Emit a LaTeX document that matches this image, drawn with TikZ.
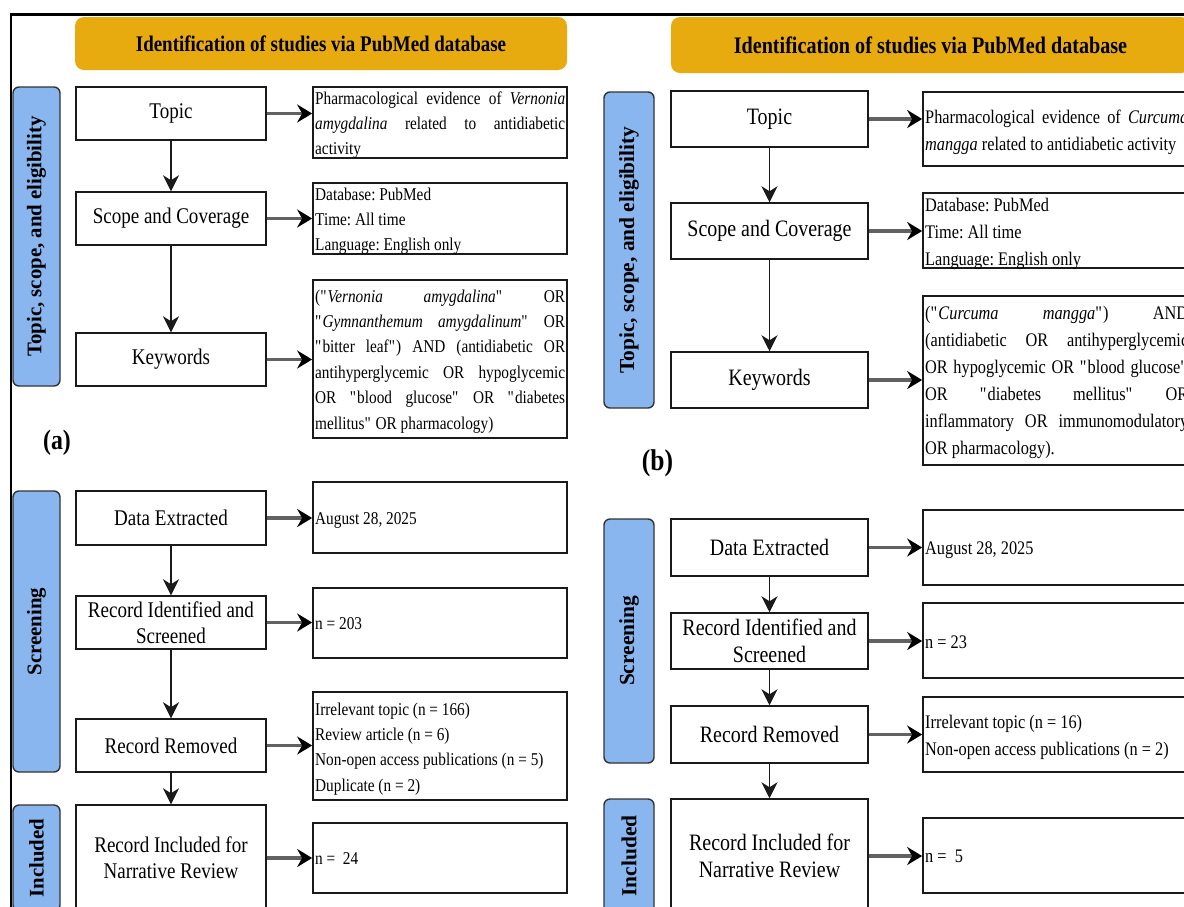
\documentclass[tikz,border=0pt]{standalone}
\usepackage{fontspec}
\setmainfont[FakeStretch=0.85]{Liberation Serif}
\newfontfamily\sidefont{Liberation Serif}
\usetikzlibrary{arrows.meta}
\definecolor{headgold}{HTML}{E7AB0F}
\definecolor{sideblue}{HTML}{8AB6F0}
\definecolor{lineblk}{HTML}{1A1A1A}
\newcommand\qd{\textquotedbl}
\frenchspacing
\begin{document}
\begin{tikzpicture}[x=1pt,y=-1pt,
  box/.style={draw=lineblk, line width=1.5pt, fill=white, inner sep=0pt, align=center},
  tbox/.style={draw=lineblk, line width=1.7pt, fill=white, inner sep=0pt},
  side/.style={draw=black!80, line width=1.4pt, fill=sideblue, rounded corners=6pt, inner sep=0pt},
  head/.style={fill=headgold, rounded corners=9pt, inner sep=0pt},
  lblA/.style={font=\fontsize{22.4}{26}\selectfont},
  lblB/.style={font=\fontsize{23.5}{27.3}\selectfont},
  sideA/.style={font=\sidefont\bfseries\fontsize{20.8}{24}\selectfont},
  sideB/.style={font=\sidefont\bfseries\fontsize{21.4}{24}\selectfont},
  txtA/.style={anchor=base west, inner sep=0pt, text width=250pt, align=justify, font=\fontsize{18}{25.4}\selectfont},
  txtB/.style={anchor=base west, inner sep=0pt, text width=263pt, align=justify, font=\fontsize{19.2}{27}\selectfont},
  varrow/.style={draw=lineblk, line width=1.4pt, -{Stealth[length=16pt,width=16pt,inset=5pt]}},
  harrow/.style={draw=black!62, line width=3.2pt, -{Stealth[length=15pt,width=18pt,inset=5pt,color=black]}},
  plab/.style={inner sep=0pt, font=\bfseries\fontsize{28}{30}\selectfont}
]
\useasboundingbox (0,0) rectangle (1184,906);
\clip (0,0) rectangle (1184,906);
\fill[white] (0,0) rectangle (1184,906);
% outer border
\draw[line width=2.6pt, black] (11,910) -- (11,14.7) -- (1190,14.7);

% ================= panel (a) =================
\node[head, minimum width=492pt, minimum height=53pt, font=\bfseries\fontsize{22.3}{26}\selectfont] (hA) at (321,43.5) {Identification of studies via PubMed database};

\node[side, sideA, rotate=90, minimum width=299pt, minimum height=47pt] (sA1) at (36.5,236.5) {Topic, scope, and eligibility};
\node[side, sideA, rotate=90, minimum width=281pt, minimum height=47pt] (sA2) at (36.5,631.5) {Screening};
\node[side, sideA, rotate=90, minimum width=106pt, minimum height=47pt] (sA3) at (36.5,858) {Included};

\node[box, lblA, minimum width=190pt, minimum height=53pt] (topA) at (171,113.5) {Topic};
\node[box, lblA, minimum width=190pt, minimum height=53pt] (scoA) at (171,218.5) {Scope and Coverage};
\node[box, lblA, minimum width=190pt, minimum height=53pt] (keyA) at (171,359.5) {Keywords};
\node[box, lblA, minimum width=190pt, minimum height=54pt] (datA) at (171,518) {Data Extracted};
\node[box, lblA, minimum width=190pt, minimum height=53pt] (ideA) at (171,622.5) {Record Identified and\\Screened};
\node[box, lblA, minimum width=190pt, minimum height=53pt] (remA) at (171,745.5) {Record Removed};
\node[box, lblA, minimum width=190pt, minimum height=106pt] (incA) at (171,858) {Record Included for\\Narrative Review};

\node[tbox, minimum width=254pt, minimum height=71pt] (rA1) at (440,122.5) {};
\node[tbox, minimum width=254pt, minimum height=71pt] (rA2) at (440,218.5) {};
\node[tbox, minimum width=254pt, minimum height=158pt] (rA3) at (440,359) {};
\node[tbox, minimum width=254pt, minimum height=71pt] (rA4) at (440,517.5) {};
\node[tbox, minimum width=254pt, minimum height=70pt] (rA5) at (440,623) {};
\node[tbox, minimum width=254pt, minimum height=108pt] (rA6) at (440,746) {};
\node[tbox, minimum width=254pt, minimum height=70pt] (rA7) at (440,858) {};

\node[txtA] (tA1) at (315,104) {Pharmacological evidence of \textit{Vernonia}\linebreak \textit{amygdalina} related to antidiabetic\linebreak activity};
\node[txtA] (tA2) at (315,200) {Database: PubMed\\Time: All time\\Language: English only};
\node[txtA] (tA3) at (315,302) {(\qd\textit{Vernonia amygdalina}\qd{} OR\linebreak \qd\textit{Gymnanthemum amygdalinum}\qd{} OR\linebreak \qd bitter leaf\qd) AND (antidiabetic OR\linebreak antihyperglycemic OR hypoglycemic\linebreak OR \qd blood glucose\qd{} OR \qd diabetes\linebreak mellitus\qd{} OR pharmacology)};
\node[txtA] (tA4) at (315,524) {August 28, 2025};
\node[txtA] (tA5) at (315,629) {n = 203};
\node[txtA] (tA6) at (315,715) {Irrelevant topic (n = 166)\\Review article (n = 6)\\Non-open access publications (n = 5)\\Duplicate (n = 2)};
\node[txtA] (tA7) at (315,864) {n =\ \ 24};

\node[plab] (labA) at (57,443) {(a)};

\draw[varrow] (topA) -- (scoA);
\draw[varrow] (scoA) -- (keyA);
\draw[varrow] (datA) -- (ideA);
\draw[varrow] (ideA) -- (remA);
\draw[varrow] (remA) -- (incA);

\draw[harrow] (topA.east) -- (topA.east -| rA1.west);
\draw[harrow] (scoA.east) -- (scoA.east -| rA2.west);
\draw[harrow] (keyA.east) -- (keyA.east -| rA3.west);
\draw[harrow] (datA.east) -- (datA.east -| rA4.west);
\draw[harrow] (ideA.east) -- (ideA.east -| rA5.west);
\draw[harrow] (remA.east) -- (remA.east -| rA6.west);
\draw[harrow] (incA.east) -- (incA.east -| rA7.west);

% ================= panel (b) =================
\node[head, minimum width=519pt, minimum height=56pt, font=\bfseries\fontsize{23.7}{27}\selectfont] (hB) at (930.5,45) {Identification of studies via PubMed database};

\node[side, sideB, rotate=90, minimum width=316pt, minimum height=50pt] (sB1) at (629,250) {Topic, scope, and eligibility};
\node[side, sideB, rotate=90, minimum width=244pt, minimum height=50pt] (sB2) at (629,641) {Screening};
\node[side, sideB, rotate=90, minimum width=114pt, minimum height=50pt] (sB3) at (629,856) {Included};

\node[box, lblB, minimum width=197pt, minimum height=56pt] (topB) at (769.5,119) {Topic};
\node[box, lblB, minimum width=197pt, minimum height=56pt] (scoB) at (769.5,231) {Scope and Coverage};
\node[box, lblB, minimum width=197pt, minimum height=56pt] (keyB) at (769.5,380) {Keywords};
\node[box, lblB, minimum width=197pt, minimum height=57pt] (datB) at (769.5,547.5) {Data Extracted};
\node[box, lblB, minimum width=197pt, minimum height=56pt] (ideB) at (769.5,641) {Record Identified and\\Screened};
\node[box, lblB, minimum width=197pt, minimum height=57pt] (remB) at (769.5,734.5) {Record Removed};
\node[box, lblB, minimum width=197pt, minimum height=114pt] (incB) at (769.5,856) {Record Included for\\Narrative Review};

\node[tbox, minimum width=268pt, minimum height=74pt] (rB1) at (1057,129) {};
\node[tbox, minimum width=268pt, minimum height=75pt] (rB2) at (1057,230.5) {};
\node[tbox, minimum width=268pt, minimum height=169pt] (rB3) at (1057,380.5) {};
\node[tbox, minimum width=268pt, minimum height=75pt] (rB4) at (1057,547.5) {};
\node[tbox, minimum width=268pt, minimum height=75pt] (rB5) at (1057,640.5) {};
\node[tbox, minimum width=268pt, minimum height=75pt] (rB6) at (1057,734.5) {};
\node[tbox, minimum width=268pt, minimum height=75pt] (rB7) at (1057,855.5) {};

\node[txtB] (tB1) at (925,123) {Pharmacological evidence of \textit{Curcuma}\linebreak \textit{mangga} related to antidiabetic activity};
\node[txtB] (tB2) at (925,211) {Database: PubMed\\Time: All time\\Language: English only};
\node[txtB] (tB3) at (925,319.5) {(\qd\textit{Curcuma mangga}\qd) AND\linebreak (antidiabetic OR antihyperglycemic\linebreak OR hypoglycemic OR \qd blood glucose\qd\linebreak OR \qd diabetes mellitus\qd{} OR\linebreak inflammatory OR immunomodulatory\linebreak OR pharmacology).};
\node[txtB] (tB4) at (925,554) {August 28, 2025};
\node[txtB] (tB5) at (925,648) {n = 23};
\node[txtB] (tB6) at (925,728) {Irrelevant topic (n = 16)\\Non-open access publications (n = 2)};
\node[txtB] (tB7) at (925,862) {n =\ \ 5};

\node[plab, font=\bfseries\fontsize{30}{32}\selectfont] (labB) at (657.5,463) {(b)};

\draw[varrow] (topB) -- (scoB);
\draw[varrow] (scoB) -- (keyB);
\draw[varrow] (datB) -- (ideB);
\draw[varrow] (ideB) -- (remB);
\draw[varrow] (remB) -- (incB);

\draw[harrow] (topB.east) -- (topB.east -| rB1.west);
\draw[harrow] (scoB.east) -- (scoB.east -| rB2.west);
\draw[harrow] (keyB.east) -- (keyB.east -| rB3.west);
\draw[harrow] (datB.east) -- (datB.east -| rB4.west);
\draw[harrow] (ideB.east) -- (ideB.east -| rB5.west);
\draw[harrow] (remB.east) -- (remB.east -| rB6.west);
\draw[harrow] (incB.east) -- (incB.east -| rB7.west);
\end{tikzpicture}
\end{document}
